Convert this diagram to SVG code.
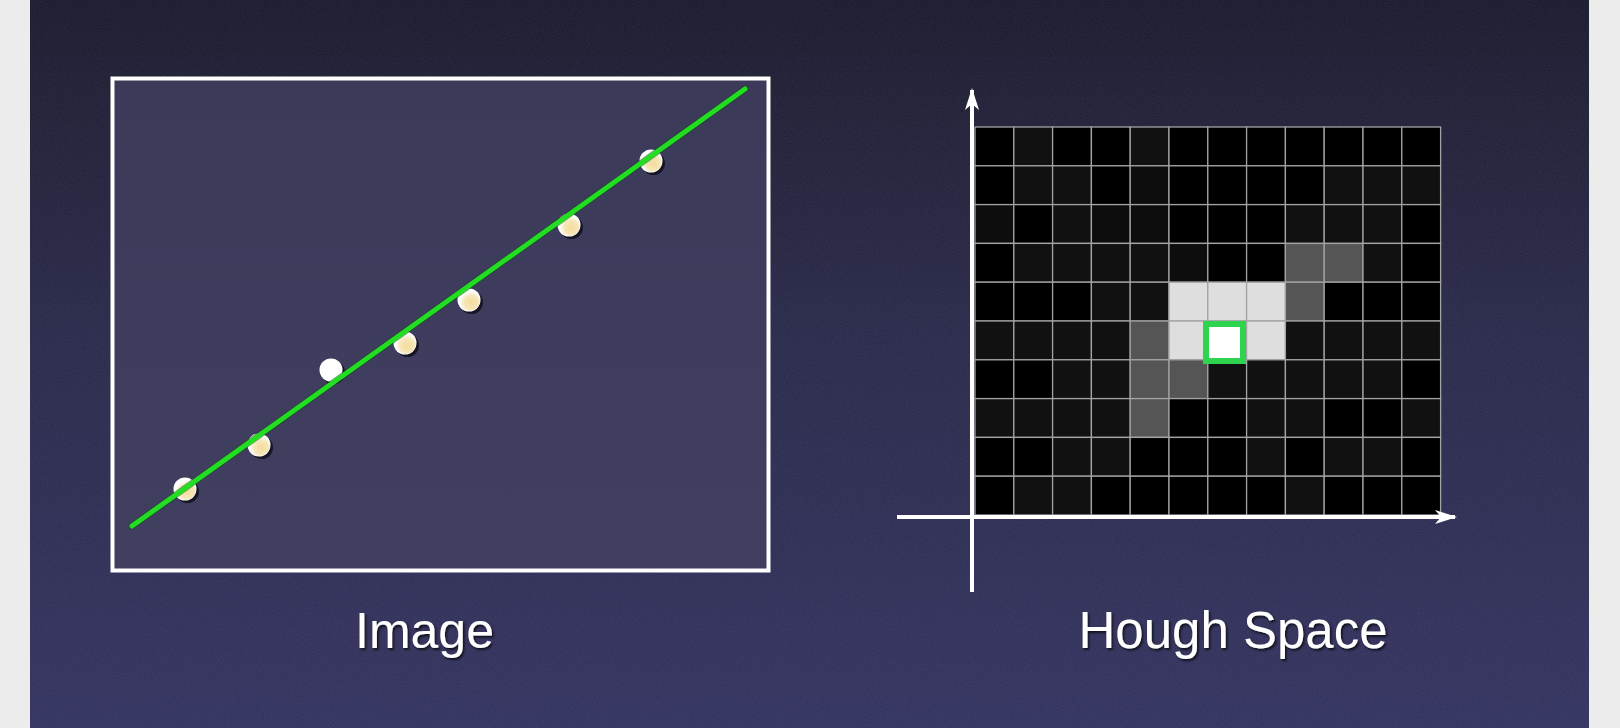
<svg xmlns="http://www.w3.org/2000/svg" width="1620" height="728" viewBox="0 0 1620 728">
<defs>
<linearGradient id="bg" x1="0" y1="0" x2="0" y2="1">
<stop offset="0" stop-color="#17172a"/>
<stop offset="0.45" stop-color="#262647"/>
<stop offset="1" stop-color="#30305e"/>
</linearGradient>
<linearGradient id="panel" x1="0" y1="0" x2="0" y2="1">
<stop offset="0" stop-color="#3b3a59"/>
<stop offset="1" stop-color="#403f60"/>
</linearGradient>
<radialGradient id="dotFill" cx="0.58" cy="0.6" r="0.55">
<stop offset="0" stop-color="#f3dc9c"/>
<stop offset="0.6" stop-color="#f6e6b8"/>
<stop offset="1" stop-color="#ffffff"/>
</radialGradient>
<filter id="noise" x="0" y="0" width="100%" height="100%">
<feTurbulence type="fractalNoise" baseFrequency="0.9" numOctaves="2" seed="3" result="n"/>
<feColorMatrix in="n" type="matrix" values="0 0 0 0 0.5  0 0 0 0 0.5  0 0 0 0 0.6  0 0 0 0.12 0"/>
</filter>
<filter id="tshadow" x="-10%" y="-20%" width="120%" height="150%">
<feDropShadow dx="1.5" dy="2" stdDeviation="1" flood-color="#000" flood-opacity="0.7"/>
</filter>
<marker id="arrow" viewBox="0 0 22 14" refX="20" refY="7" markerWidth="22" markerHeight="14" markerUnits="userSpaceOnUse" orient="auto">
<path d="M0,0 L22,7 L0,14 L6,7 Z" fill="#ffffff"/>
</marker>
<style>
.cell{stroke:#a3a3a3;stroke-width:1.3}
.axis{stroke:#ffffff;stroke-width:4;fill:none}
.lbl{font-family:"Liberation Sans",Arial,sans-serif;font-size:50px;fill:#ffffff;text-anchor:middle;filter:url(#tshadow)}
.dot{fill:url(#dotFill)}
.dotw{fill:#ffffff}
.dsh{fill:#0a0a14;opacity:0.75}
</style>
</defs>

<rect x="0" y="0" width="1620" height="728" fill="#ececec"/>
<rect x="30" y="0" width="1559" height="728" fill="url(#bg)"/>
<rect x="30" y="0" width="1559" height="728" filter="url(#noise)"/>

<g id="image-panel">
<rect x="112.5" y="78.5" width="656" height="492" fill="url(#panel)" stroke="#ffffff" stroke-width="4"/>
</g>

<g id="points">
<circle class="dsh" cx="187.5" cy="491.5" r="11.5"/>
<circle class="dotw" cx="185" cy="489" r="11.5"/>
<circle class="dot" cx="185.5" cy="489.5" r="10.5"/>
<circle class="dsh" cx="261.5" cy="447.5" r="11.5"/>
<circle class="dotw" cx="259" cy="445" r="11.5"/>
<circle class="dot" cx="259.5" cy="445.5" r="10.5"/>
<circle class="dsh" cx="333.5" cy="372.5" r="11.5"/>
<circle class="dotw" cx="331" cy="370" r="11.5"/>
<circle class="dsh" cx="407.5" cy="345.5" r="11.5"/>
<circle class="dotw" cx="405" cy="343" r="11.5"/>
<circle class="dot" cx="405.5" cy="343.5" r="10.5"/>
<circle class="dsh" cx="471.5" cy="302.5" r="11.5"/>
<circle class="dotw" cx="469" cy="300" r="11.5"/>
<circle class="dot" cx="469.5" cy="300.5" r="10.5"/>
<circle class="dsh" cx="571.5" cy="227.5" r="11.5"/>
<circle class="dotw" cx="569" cy="225" r="11.5"/>
<circle class="dot" cx="569.5" cy="225.5" r="10.5"/>
<circle class="dsh" cx="653.5" cy="163.5" r="11.5"/>
<circle class="dotw" cx="651" cy="161" r="11.5"/>
<circle class="dot" cx="651.5" cy="161.5" r="10.5"/>
</g>

<g id="fit-line">
<line x1="132" y1="526" x2="745" y2="89" stroke="#0b4a0b" stroke-width="6.5" stroke-linecap="round" opacity="0.5"/>
<line x1="132" y1="526" x2="745" y2="89" stroke="#22dd22" stroke-width="5" stroke-linecap="round"/>
</g>

<g id="hough-grid">
<rect class="cell" x="975" y="127" width="38.8" height="38.8" fill="#000"/>
<rect class="cell" x="1013.8" y="127" width="38.8" height="38.8" fill="#111"/>
<rect class="cell" x="1052.6" y="127" width="38.8" height="38.8" fill="#000"/>
<rect class="cell" x="1091.4" y="127" width="38.8" height="38.8" fill="#000"/>
<rect class="cell" x="1130.2" y="127" width="38.8" height="38.8" fill="#111"/>
<rect class="cell" x="1169" y="127" width="38.8" height="38.8" fill="#000"/>
<rect class="cell" x="1207.8" y="127" width="38.8" height="38.8" fill="#000"/>
<rect class="cell" x="1246.6" y="127" width="38.8" height="38.8" fill="#000"/>
<rect class="cell" x="1285.4" y="127" width="38.8" height="38.8" fill="#000"/>
<rect class="cell" x="1324.2" y="127" width="38.8" height="38.8" fill="#000"/>
<rect class="cell" x="1363" y="127" width="38.8" height="38.8" fill="#000"/>
<rect class="cell" x="1401.8" y="127" width="38.8" height="38.8" fill="#000"/>

<rect class="cell" x="975" y="165.8" width="38.8" height="38.8" fill="#000"/>
<rect class="cell" x="1013.8" y="165.8" width="38.8" height="38.8" fill="#111"/>
<rect class="cell" x="1052.6" y="165.8" width="38.8" height="38.8" fill="#111"/>
<rect class="cell" x="1091.4" y="165.8" width="38.8" height="38.8" fill="#000"/>
<rect class="cell" x="1130.2" y="165.8" width="38.8" height="38.8" fill="#0d0d0d"/>
<rect class="cell" x="1169" y="165.8" width="38.8" height="38.8" fill="#000"/>
<rect class="cell" x="1207.8" y="165.8" width="38.8" height="38.8" fill="#000"/>
<rect class="cell" x="1246.6" y="165.8" width="38.8" height="38.8" fill="#000"/>
<rect class="cell" x="1285.4" y="165.8" width="38.8" height="38.8" fill="#000"/>
<rect class="cell" x="1324.2" y="165.8" width="38.8" height="38.8" fill="#111"/>
<rect class="cell" x="1363" y="165.8" width="38.8" height="38.8" fill="#111"/>
<rect class="cell" x="1401.8" y="165.8" width="38.8" height="38.8" fill="#111"/>

<rect class="cell" x="975" y="204.6" width="38.8" height="38.8" fill="#0d0d0d"/>
<rect class="cell" x="1013.8" y="204.6" width="38.8" height="38.8" fill="#000"/>
<rect class="cell" x="1052.6" y="204.6" width="38.8" height="38.8" fill="#111"/>
<rect class="cell" x="1091.4" y="204.6" width="38.8" height="38.8" fill="#0d0d0d"/>
<rect class="cell" x="1130.2" y="204.6" width="38.8" height="38.8" fill="#0d0d0d"/>
<rect class="cell" x="1169" y="204.6" width="38.8" height="38.8" fill="#000"/>
<rect class="cell" x="1207.8" y="204.6" width="38.8" height="38.8" fill="#000"/>
<rect class="cell" x="1246.6" y="204.6" width="38.8" height="38.8" fill="#000"/>
<rect class="cell" x="1285.4" y="204.6" width="38.8" height="38.8" fill="#111"/>
<rect class="cell" x="1324.2" y="204.6" width="38.8" height="38.8" fill="#111"/>
<rect class="cell" x="1363" y="204.6" width="38.8" height="38.8" fill="#111"/>
<rect class="cell" x="1401.8" y="204.6" width="38.8" height="38.8" fill="#000"/>

<rect class="cell" x="975" y="243.4" width="38.8" height="38.8" fill="#000"/>
<rect class="cell" x="1013.8" y="243.4" width="38.8" height="38.8" fill="#111"/>
<rect class="cell" x="1052.6" y="243.4" width="38.8" height="38.8" fill="#111"/>
<rect class="cell" x="1091.4" y="243.4" width="38.8" height="38.8" fill="#111"/>
<rect class="cell" x="1130.2" y="243.4" width="38.8" height="38.8" fill="#111"/>
<rect class="cell" x="1169" y="243.4" width="38.8" height="38.8" fill="#0d0d0d"/>
<rect class="cell" x="1207.8" y="243.4" width="38.8" height="38.8" fill="#000"/>
<rect class="cell" x="1246.6" y="243.4" width="38.8" height="38.8" fill="#000"/>
<rect class="cell" x="1285.4" y="243.4" width="38.8" height="38.8" fill="#555"/>
<rect class="cell" x="1324.2" y="243.4" width="38.8" height="38.8" fill="#555"/>
<rect class="cell" x="1363" y="243.4" width="38.8" height="38.8" fill="#111"/>
<rect class="cell" x="1401.8" y="243.4" width="38.8" height="38.8" fill="#000"/>

<rect class="cell" x="975" y="282.2" width="38.8" height="38.8" fill="#000"/>
<rect class="cell" x="1013.8" y="282.2" width="38.8" height="38.8" fill="#000"/>
<rect class="cell" x="1052.6" y="282.2" width="38.8" height="38.8" fill="#000"/>
<rect class="cell" x="1091.4" y="282.2" width="38.8" height="38.8" fill="#111"/>
<rect class="cell" x="1130.2" y="282.2" width="38.8" height="38.8" fill="#111"/>
<rect class="cell" x="1169" y="282.2" width="38.8" height="38.8" fill="#dedede"/>
<rect class="cell" x="1207.8" y="282.2" width="38.8" height="38.8" fill="#dedede"/>
<rect class="cell" x="1246.6" y="282.2" width="38.8" height="38.8" fill="#dedede"/>
<rect class="cell" x="1285.4" y="282.2" width="38.8" height="38.8" fill="#555"/>
<rect class="cell" x="1324.2" y="282.2" width="38.8" height="38.8" fill="#000"/>
<rect class="cell" x="1363" y="282.2" width="38.8" height="38.8" fill="#000"/>
<rect class="cell" x="1401.8" y="282.2" width="38.8" height="38.8" fill="#000"/>

<rect class="cell" x="975" y="321" width="38.8" height="38.8" fill="#111"/>
<rect class="cell" x="1013.8" y="321" width="38.8" height="38.8" fill="#111"/>
<rect class="cell" x="1052.6" y="321" width="38.8" height="38.8" fill="#111"/>
<rect class="cell" x="1091.4" y="321" width="38.8" height="38.8" fill="#111"/>
<rect class="cell" x="1130.2" y="321" width="38.8" height="38.8" fill="#555"/>
<rect class="cell" x="1169" y="321" width="38.8" height="38.8" fill="#dedede"/>
<rect class="cell" x="1207.8" y="321" width="38.8" height="38.8" fill="#ffffff"/>
<rect class="cell" x="1246.6" y="321" width="38.8" height="38.8" fill="#dedede"/>
<rect class="cell" x="1285.4" y="321" width="38.8" height="38.8" fill="#111"/>
<rect class="cell" x="1324.2" y="321" width="38.8" height="38.8" fill="#111"/>
<rect class="cell" x="1363" y="321" width="38.8" height="38.8" fill="#111"/>
<rect class="cell" x="1401.8" y="321" width="38.8" height="38.8" fill="#111"/>

<rect class="cell" x="975" y="359.8" width="38.8" height="38.8" fill="#000"/>
<rect class="cell" x="1013.8" y="359.8" width="38.8" height="38.8" fill="#000"/>
<rect class="cell" x="1052.6" y="359.8" width="38.8" height="38.8" fill="#111"/>
<rect class="cell" x="1091.4" y="359.8" width="38.8" height="38.8" fill="#111"/>
<rect class="cell" x="1130.2" y="359.8" width="38.8" height="38.8" fill="#555"/>
<rect class="cell" x="1169" y="359.8" width="38.8" height="38.8" fill="#555"/>
<rect class="cell" x="1207.8" y="359.8" width="38.8" height="38.8" fill="#111"/>
<rect class="cell" x="1246.6" y="359.8" width="38.8" height="38.8" fill="#111"/>
<rect class="cell" x="1285.4" y="359.8" width="38.8" height="38.8" fill="#111"/>
<rect class="cell" x="1324.2" y="359.8" width="38.8" height="38.8" fill="#111"/>
<rect class="cell" x="1363" y="359.8" width="38.8" height="38.8" fill="#111"/>
<rect class="cell" x="1401.8" y="359.8" width="38.8" height="38.8" fill="#000"/>

<rect class="cell" x="975" y="398.6" width="38.8" height="38.8" fill="#111"/>
<rect class="cell" x="1013.8" y="398.6" width="38.8" height="38.8" fill="#111"/>
<rect class="cell" x="1052.6" y="398.6" width="38.8" height="38.8" fill="#111"/>
<rect class="cell" x="1091.4" y="398.6" width="38.8" height="38.8" fill="#111"/>
<rect class="cell" x="1130.2" y="398.6" width="38.8" height="38.8" fill="#555"/>
<rect class="cell" x="1169" y="398.6" width="38.8" height="38.8" fill="#000"/>
<rect class="cell" x="1207.8" y="398.6" width="38.8" height="38.8" fill="#000"/>
<rect class="cell" x="1246.6" y="398.6" width="38.8" height="38.8" fill="#111"/>
<rect class="cell" x="1285.4" y="398.6" width="38.8" height="38.8" fill="#111"/>
<rect class="cell" x="1324.2" y="398.6" width="38.8" height="38.8" fill="#000"/>
<rect class="cell" x="1363" y="398.6" width="38.8" height="38.8" fill="#000"/>
<rect class="cell" x="1401.8" y="398.6" width="38.8" height="38.8" fill="#111"/>

<rect class="cell" x="975" y="437.4" width="38.8" height="38.8" fill="#000"/>
<rect class="cell" x="1013.8" y="437.4" width="38.8" height="38.8" fill="#000"/>
<rect class="cell" x="1052.6" y="437.4" width="38.8" height="38.8" fill="#111"/>
<rect class="cell" x="1091.4" y="437.4" width="38.8" height="38.8" fill="#111"/>
<rect class="cell" x="1130.2" y="437.4" width="38.8" height="38.8" fill="#000"/>
<rect class="cell" x="1169" y="437.4" width="38.8" height="38.8" fill="#000"/>
<rect class="cell" x="1207.8" y="437.4" width="38.8" height="38.8" fill="#000"/>
<rect class="cell" x="1246.6" y="437.4" width="38.8" height="38.8" fill="#111"/>
<rect class="cell" x="1285.4" y="437.4" width="38.8" height="38.8" fill="#000"/>
<rect class="cell" x="1324.2" y="437.4" width="38.8" height="38.8" fill="#111"/>
<rect class="cell" x="1363" y="437.4" width="38.8" height="38.8" fill="#111"/>
<rect class="cell" x="1401.8" y="437.4" width="38.8" height="38.8" fill="#000"/>

<rect class="cell" x="975" y="476.2" width="38.8" height="38.8" fill="#000"/>
<rect class="cell" x="1013.8" y="476.2" width="38.8" height="38.8" fill="#111"/>
<rect class="cell" x="1052.6" y="476.2" width="38.8" height="38.8" fill="#111"/>
<rect class="cell" x="1091.4" y="476.2" width="38.8" height="38.8" fill="#000"/>
<rect class="cell" x="1130.2" y="476.2" width="38.8" height="38.8" fill="#000"/>
<rect class="cell" x="1169" y="476.2" width="38.8" height="38.8" fill="#000"/>
<rect class="cell" x="1207.8" y="476.2" width="38.8" height="38.8" fill="#000"/>
<rect class="cell" x="1246.6" y="476.2" width="38.8" height="38.8" fill="#000"/>
<rect class="cell" x="1285.4" y="476.2" width="38.8" height="38.8" fill="#111"/>
<rect class="cell" x="1324.2" y="476.2" width="38.8" height="38.8" fill="#000"/>
<rect class="cell" x="1363" y="476.2" width="38.8" height="38.8" fill="#000"/>
<rect class="cell" x="1401.8" y="476.2" width="38.8" height="38.8" fill="#000"/>
</g>

<g id="peak">
<rect x="1206" y="324" width="37" height="37" fill="#ffffff" stroke="#2ed34e" stroke-width="6"/>
</g>

<g id="axes">
<line class="axis" x1="972" y1="592" x2="972" y2="90" marker-end="url(#arrow)"/>
<line class="axis" x1="897" y1="517" x2="1455" y2="517" marker-end="url(#arrow)"/>
</g>

<g id="labels">
<text class="lbl" x="424.5" y="648">Image</text>
<text class="lbl" x="1233" y="648" style="font-size:51px">Hough Space</text>
</g>
</svg>
